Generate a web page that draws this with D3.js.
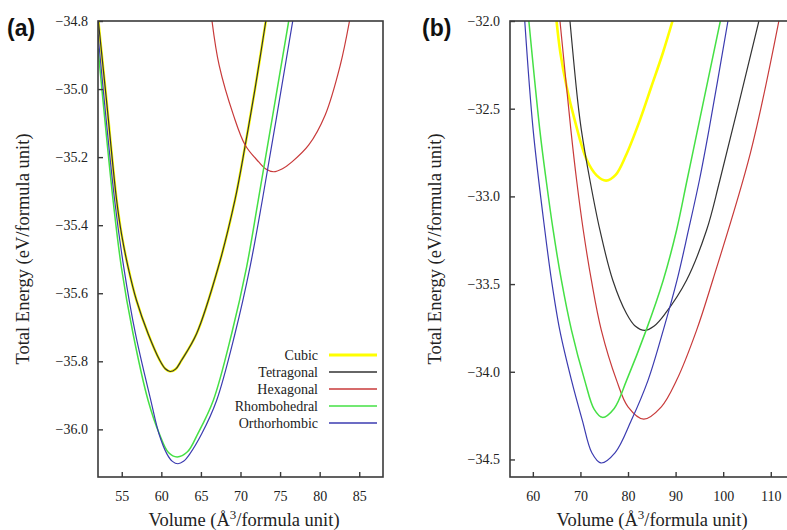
<!DOCTYPE html>
<html>
<head>
<meta charset="utf-8">
<script src="https://cdn.jsdelivr.net/npm/d3@7"></script>
<style>
  body { margin: 0; background: #fff; }
  svg { display: block; }
</style>
</head>
<body>
<svg id="chart" width="787" height="530"></svg>
<script>
// phases, in legend order
const phases = ['Cubic', 'Tetragonal', 'Hexagonal', 'Rhombohedral', 'Orthorhombic'];
const colors = ['#ffff00', '#333333', '#c83a3a', '#45e045', '#3b3bb0'];
const widths = [2.6, 1.2, 1.2, 1.5, 1.2];

// panel (a): [volume, energy]
const cubicA = [[52.0,-34.79],[53.1,-35.04],[54.35,-35.326],[55.0,-35.43],[55.8,-35.523],[56.85,-35.62],[58.33,-35.719],[59.8,-35.797],[60.5,-35.822],[61.1,-35.83],[61.8,-35.823],[62.55,-35.797],[64.45,-35.719],[67.2,-35.523],[69.3,-35.326],[70.6,-35.165],[71.83,-35.00],[73.2,-34.80]];
const tetragonalA = cubicA;
const hexagonalA = [[66.4,-34.80],[67.3,-34.93],[69.1,-35.076],[70.6,-35.165],[72.3,-35.214],[73.2,-35.235],[74.19,-35.243],[75.3,-35.234],[76.5,-35.214],[78.6,-35.165],[80.7,-35.076],[82.6,-34.93],[83.77,-34.80]];
const rhombohedralA = [[52.0,-34.88],[53.9,-35.326],[54.95,-35.523],[56.43,-35.719],[58.33,-35.915],[59.75,-36.013],[60.9,-36.068],[62.0,-36.081],[63.3,-36.066],[64.6,-36.013],[66.56,-35.915],[68.88,-35.719],[70.77,-35.523],[72.25,-35.326],[76.09,-34.80]];
const orthorhombicA = [[52.0,-34.84],[54.1,-35.326],[55.25,-35.523],[56.73,-35.719],[58.67,-35.915],[59.7,-36.013],[60.7,-36.072],[61.4,-36.094],[62.1,-36.101],[62.8,-36.094],[63.6,-36.072],[65.1,-36.013],[66.98,-35.915],[69.3,-35.719],[71.2,-35.523],[72.76,-35.326],[76.6,-34.80]];

// panel (b)
const cubicB = [[64.98,-32.0],[65.8,-32.184],[67.1,-32.375],[68.8,-32.565],[71.3,-32.79],[73.4,-32.88],[75.4,-32.91],[77.4,-32.877],[79.5,-32.77],[82.5,-32.565],[84.9,-32.375],[87.3,-32.184],[89.35,-32.0]];
const tetragonalB = [[67.8,-32.0],[69.4,-32.45],[70.2,-32.622],[72.0,-32.908],[74.1,-33.193],[76.8,-33.478],[79.7,-33.669],[81.5,-33.739],[83.5,-33.764],[85.5,-33.739],[87.8,-33.669],[92.3,-33.478],[96.5,-33.193],[99.3,-32.908],[107.5,-32.0]];
const hexagonalB = [[65.7,-32.0],[68.0,-32.622],[69.2,-32.908],[70.6,-33.193],[72.3,-33.478],[74.4,-33.764],[77.6,-34.049],[80.0,-34.2],[83.3,-34.27],[87.0,-34.2],[90.2,-34.049],[94.4,-33.764],[97.8,-33.478],[105.7,-32.755],[111.7,-32.0]];
const rhombohedralB = [[59.16,-32.0],[61.47,-32.622],[62.8,-32.908],[64.27,-33.193],[66.0,-33.478],[68.13,-33.764],[70.9,-34.049],[72.9,-34.215],[74.6,-34.26],[77.1,-34.209],[79.7,-34.049],[83.8,-33.764],[87.4,-33.478],[90.2,-33.193],[92.4,-32.908],[94.6,-32.622],[99.4,-32.0]];
const orthorhombicB = [[58.3,-32.0],[60.07,-32.622],[62.52,-33.193],[63.92,-33.478],[65.67,-33.764],[68.13,-34.049],[70.4,-34.277],[72.4,-34.462],[74.3,-34.52],[77.3,-34.461],[80.7,-34.277],[84.2,-34.049],[87.4,-33.764],[90.3,-33.478],[92.7,-33.193],[95.0,-32.908],[97.0,-32.622],[101.0,-32.0]];

const xTicksA = [55, 60, 65, 70, 75, 80, 85];
const yTicksA = [-34.8, -35.0, -35.2, -35.4, -35.6, -35.8, -36.0];
const xTicksB = [60, 70, 80, 90, 100, 110];
const yTicksB = [-32.0, -32.5, -33.0, -33.5, -34.0, -34.5];

const svg = d3.select('#chart');
const serif = '"Liberation Serif", "DejaVu Serif", serif';
const frameColor = '#3a3a3a';

function fmt(v) {
  return v.toFixed(1).replace('-', '\u2212');
}

function styleAxis(a) {
  a.attr('font-family', serif).attr('font-size', 14);
  a.select('.domain').remove();
  a.selectAll('line').attr('stroke', frameColor).attr('stroke-width', 1.4);
  a.selectAll('text').attr('font-family', serif).attr('font-size', 14).attr('fill', '#222');
}

function drawPanel(opts) {
  const { id, left, right, top, bottom, xDomain, yDomain, xTicks, yTicks, series, label, labelX, yTitleX, xTitleX } = opts;
  const x = d3.scaleLinear().domain(xDomain).range([left, right]);
  const y = d3.scaleLinear().domain(yDomain).range([bottom, top]);

  svg.append('clipPath').attr('id', 'clip-' + id)
    .append('rect')
    .attr('x', left).attr('y', top)
    .attr('width', right - left).attr('height', bottom - top);

  const line = d3.line()
    .x(d => x(d[0]))
    .y(d => y(d[1]))
    .curve(d3.curveCatmullRom.alpha(0.5));

  const g = svg.append('g').attr('clip-path', `url(#clip-${id})`);
  series.forEach((s, i) => {
    g.append('path')
      .datum(s)
      .attr('d', line)
      .attr('fill', 'none')
      .attr('stroke', colors[i])
      .attr('stroke-width', widths[i]);
  });

  // frame
  svg.append('rect')
    .attr('x', left).attr('y', top)
    .attr('width', right - left).attr('height', bottom - top)
    .attr('fill', 'none')
    .attr('stroke', frameColor)
    .attr('stroke-width', 1.6);

  // axes with inward ticks
  svg.append('g')
    .attr('transform', `translate(0,${bottom})`)
    .call(d3.axisBottom(x).tickValues(xTicks).tickSize(-5).tickPadding(14).tickFormat(d3.format('d')))
    .call(styleAxis);

  svg.append('g')
    .attr('transform', `translate(${left},0)`)
    .call(d3.axisLeft(y).tickValues(yTicks).tickSize(-5).tickPadding(10).tickFormat(fmt))
    .call(styleAxis);

  // panel label
  svg.append('text')
    .attr('x', labelX).attr('y', 36)
    .attr('font-family', '"Liberation Sans", Arial, sans-serif')
    .attr('font-weight', 700)
    .attr('font-size', 23)
    .attr('fill', '#111')
    .text(label);

  // y title
  svg.append('text')
    .attr('transform', `translate(${yTitleX},${(top + bottom) / 2}) rotate(-90)`)
    .attr('text-anchor', 'middle')
    .attr('font-family', serif)
    .attr('font-size', 18.5)
    .attr('fill', '#222')
    .text('Total Energy (eV/formula unit)');

  // x title
  const xt = svg.append('text')
    .attr('x', xTitleX).attr('y', 526)
    .attr('text-anchor', 'middle')
    .attr('font-family', serif)
    .attr('font-size', 18.5)
    .attr('fill', '#222');
  xt.append('tspan').text('Volume (\u00c5');
  xt.append('tspan').attr('font-size', 13).attr('dy', -7).text('3');
  xt.append('tspan').attr('dy', 7).text('/formula unit)');

  return { x, y };
}

drawPanel({
  id: 'a', left: 98, right: 383, top: 21, bottom: 477,
  xDomain: [52, 88], yDomain: [-36.14, -34.8],
  xTicks: xTicksA, yTicks: yTicksA,
  series: [cubicA, tetragonalA, hexagonalA, rhombohedralA, orthorhombicA],
  label: '(a)', labelX: 7, yTitleX: 29, xTitleX: 244
});

drawPanel({
  id: 'b', left: 510, right: 796, top: 21, bottom: 477,
  xDomain: [55.2, 115.3], yDomain: [-34.6, -32.0],
  xTicks: xTicksB, yTicks: yTicksB,
  series: [cubicB, tetragonalB, hexagonalB, rhombohedralB, orthorhombicB],
  label: '(b)', labelX: 422, yTitleX: 441, xTitleX: 652
});

// legend inside panel (a)
const legend = svg.append('g');
phases.forEach((p, i) => {
  const yy = 355 + i * 17;
  legend.append('text')
    .attr('x', 318).attr('y', yy + 5)
    .attr('text-anchor', 'end')
    .attr('font-family', serif)
    .attr('font-size', 14)
    .attr('fill', '#222')
    .text(p);
  legend.append('line')
    .attr('x1', 329).attr('x2', 377)
    .attr('y1', yy).attr('y2', yy)
    .attr('stroke', colors[i])
    .attr('stroke-width', i === 0 ? 2.8 : 1.4);
});
</script>
</body>
</html>
